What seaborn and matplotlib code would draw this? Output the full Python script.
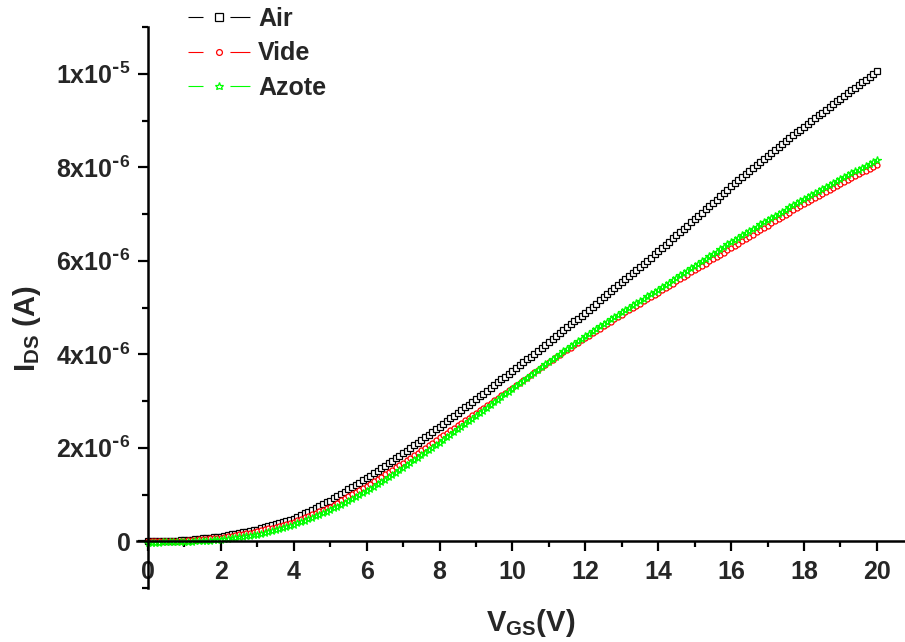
import numpy as np
import pandas as pd
import seaborn as sns
import matplotlib
matplotlib.use('Agg')
import matplotlib.pyplot as plt
from matplotlib.lines import Line2D
from matplotlib.ticker import MultipleLocator, FuncFormatter

# gate voltage sweep, 0 -> 20 V by 0.1 V
vgs = np.linspace(0, 20, 201)

# drain current, in units of 1e-6 A
i_air = [
    0.000, 0.002, 0.004, 0.006, 0.008, 0.010, 0.012, 0.014, 0.016, 0.018,
    0.020, 0.028, 0.036, 0.044, 0.052, 0.060, 0.068, 0.076, 0.084, 0.092,
    0.100, 0.115, 0.130, 0.145, 0.160, 0.175, 0.190, 0.205, 0.220, 0.235,
    0.250, 0.273, 0.296, 0.319, 0.342, 0.365, 0.388, 0.411, 0.434, 0.457,
    0.480, 0.519, 0.558, 0.597, 0.636, 0.675, 0.714, 0.753, 0.792, 0.831,
    0.870, 0.918, 0.966, 1.014, 1.062, 1.110, 1.158, 1.206, 1.254, 1.302,
    1.350, 1.403, 1.456, 1.509, 1.562, 1.615, 1.668, 1.721, 1.774, 1.827,
    1.880, 1.937, 1.994, 2.051, 2.108, 2.165, 2.222, 2.279, 2.336, 2.393,
    2.450, 2.509, 2.568, 2.627, 2.686, 2.745, 2.804, 2.863, 2.922, 2.981,
    3.040, 3.100, 3.160, 3.220, 3.280, 3.340, 3.400, 3.460, 3.520, 3.580,
    3.640, 3.702, 3.764, 3.826, 3.888, 3.950, 4.012, 4.074, 4.136, 4.198,
    4.260, 4.323, 4.386, 4.449, 4.512, 4.575, 4.638, 4.701, 4.764, 4.827,
    4.890, 4.955, 5.020, 5.085, 5.150, 5.215, 5.280, 5.345, 5.410, 5.475,
    5.540, 5.606, 5.672, 5.738, 5.804, 5.870, 5.936, 6.002, 6.068, 6.134,
    6.200, 6.269, 6.338, 6.407, 6.476, 6.545, 6.614, 6.683, 6.752, 6.821,
    6.890, 6.960, 7.030, 7.100, 7.170, 7.240, 7.310, 7.380, 7.450, 7.520,
    7.590, 7.655, 7.720, 7.785, 7.850, 7.915, 7.980, 8.045, 8.110, 8.175,
    8.240, 8.303, 8.366, 8.429, 8.492, 8.555, 8.618, 8.681, 8.744, 8.807,
    8.870, 8.930, 8.990, 9.050, 9.110, 9.170, 9.230, 9.290, 9.350, 9.410,
    9.470, 9.528, 9.586, 9.644, 9.702, 9.760, 9.818, 9.876, 9.934, 9.992,
    10.050,
]
i_vide = [
    0.000, 0.001, 0.002, 0.003, 0.004, 0.005, 0.006, 0.007, 0.008, 0.009,
    0.010, 0.017, 0.024, 0.031, 0.038, 0.045, 0.052, 0.059, 0.066, 0.073,
    0.080, 0.093, 0.106, 0.119, 0.132, 0.145, 0.158, 0.171, 0.184, 0.197,
    0.210, 0.231, 0.252, 0.273, 0.294, 0.315, 0.336, 0.357, 0.378, 0.399,
    0.420, 0.452, 0.484, 0.516, 0.548, 0.580, 0.612, 0.644, 0.676, 0.708,
    0.740, 0.784, 0.828, 0.872, 0.916, 0.960, 1.004, 1.048, 1.092, 1.136,
    1.180, 1.230, 1.280, 1.330, 1.380, 1.430, 1.480, 1.530, 1.580, 1.630,
    1.680, 1.734, 1.788, 1.842, 1.896, 1.950, 2.004, 2.058, 2.112, 2.166,
    2.220, 2.273, 2.326, 2.379, 2.432, 2.485, 2.538, 2.591, 2.644, 2.697,
    2.750, 2.803, 2.856, 2.909, 2.962, 3.015, 3.068, 3.121, 3.174, 3.227,
    3.280, 3.335, 3.390, 3.445, 3.500, 3.555, 3.610, 3.665, 3.720, 3.775,
    3.830, 3.882, 3.934, 3.986, 4.038, 4.090, 4.142, 4.194, 4.246, 4.298,
    4.350, 4.400, 4.450, 4.500, 4.550, 4.600, 4.650, 4.700, 4.750, 4.800,
    4.850, 4.897, 4.944, 4.991, 5.038, 5.085, 5.132, 5.179, 5.226, 5.273,
    5.320, 5.368, 5.416, 5.464, 5.512, 5.560, 5.608, 5.656, 5.704, 5.752,
    5.800, 5.847, 5.894, 5.941, 5.988, 6.035, 6.082, 6.129, 6.176, 6.223,
    6.270, 6.318, 6.366, 6.414, 6.462, 6.510, 6.558, 6.606, 6.654, 6.702,
    6.750, 6.797, 6.844, 6.891, 6.938, 6.985, 7.032, 7.079, 7.126, 7.173,
    7.220, 7.263, 7.306, 7.349, 7.392, 7.435, 7.478, 7.521, 7.564, 7.607,
    7.650, 7.690, 7.730, 7.770, 7.810, 7.850, 7.890, 7.930, 7.970, 8.010,
    8.050,
]
i_azote = [
    -0.030, -0.029, -0.028, -0.027, -0.026, -0.025, -0.024, -0.023, -0.022, -0.021,
    -0.020, -0.015, -0.010, -0.005, 0.000, 0.005, 0.010, 0.015, 0.020, 0.025,
    0.030, 0.041, 0.052, 0.063, 0.074, 0.085, 0.096, 0.107, 0.118, 0.129,
    0.140, 0.161, 0.182, 0.203, 0.224, 0.245, 0.266, 0.287, 0.308, 0.329,
    0.350, 0.381, 0.412, 0.443, 0.474, 0.505, 0.536, 0.567, 0.598, 0.629,
    0.660, 0.701, 0.742, 0.783, 0.824, 0.865, 0.906, 0.947, 0.988, 1.029,
    1.070, 1.120, 1.170, 1.220, 1.270, 1.320, 1.370, 1.420, 1.470, 1.520,
    1.570, 1.624, 1.678, 1.732, 1.786, 1.840, 1.894, 1.948, 2.002, 2.056,
    2.110, 2.167, 2.224, 2.281, 2.338, 2.395, 2.452, 2.509, 2.566, 2.623,
    2.680, 2.738, 2.796, 2.854, 2.912, 2.970, 3.028, 3.086, 3.144, 3.202,
    3.260, 3.318, 3.376, 3.434, 3.492, 3.550, 3.608, 3.666, 3.724, 3.782,
    3.840, 3.895, 3.950, 4.005, 4.060, 4.115, 4.170, 4.225, 4.280, 4.335,
    4.390, 4.441, 4.492, 4.543, 4.594, 4.645, 4.696, 4.747, 4.798, 4.849,
    4.900, 4.948, 4.996, 5.044, 5.092, 5.140, 5.188, 5.236, 5.284, 5.332,
    5.380, 5.431, 5.482, 5.533, 5.584, 5.635, 5.686, 5.737, 5.788, 5.839,
    5.890, 5.941, 5.992, 6.043, 6.094, 6.145, 6.196, 6.247, 6.298, 6.349,
    6.400, 6.447, 6.494, 6.541, 6.588, 6.635, 6.682, 6.729, 6.776, 6.823,
    6.870, 6.915, 6.960, 7.005, 7.050, 7.095, 7.140, 7.185, 7.230, 7.275,
    7.320, 7.363, 7.406, 7.449, 7.492, 7.535, 7.578, 7.621, 7.664, 7.707,
    7.750, 7.790, 7.830, 7.870, 7.910, 7.950, 7.990, 8.030, 8.070, 8.110,
    8.150,
]

labels = ['Air', 'Vide', 'Azote']
colors = ['#000000', '#ff0000', '#00ff00']
markers = ['s', 'o', '*']
msizes = [4.6, 3.6, 5.6]

df = pd.DataFrame({'Vgs': vgs, 'Air': i_air, 'Vide': i_vide, 'Azote': i_azote})
df[labels] = df[labels] * 1e-6

sns.set_style('ticks')
plt.rcParams['font.family'] = ['Liberation Sans', 'DejaVu Sans']
plt.rcParams['font.weight'] = 'bold'
plt.rcParams['mathtext.default'] = 'regular'
plt.rcParams['lines.scale_dashes'] = False

fig = plt.figure(figsize=(9.05, 6.42), dpi=100)
ax = fig.add_axes([137 / 905, 1 - 588 / 642, 768 / 905, 561 / 642])

for lab, c, m, ms in zip(labels, colors, markers, msizes):
    sns.lineplot(data=df, x='Vgs', y=lab, color=c, lw=0.8, marker=m,
                 markersize=ms, markerfacecolor='white', markeredgecolor=c,
                 markeredgewidth=0.9, legend=False, ax=ax)

ax.set_xlim(-0.3, 20.77)
ax.set_ylim(-1e-6, 1.1e-5)

for s in ['top', 'right']:
    ax.spines[s].set_visible(False)
for s in ['left', 'bottom']:
    ax.spines[s].set_position(('data', 0))
    ax.spines[s].set_linewidth(1.8)
    ax.spines[s].set_color('black')

ax.xaxis.set_major_locator(MultipleLocator(2))
ax.xaxis.set_minor_locator(MultipleLocator(1))
ax.yaxis.set_major_locator(MultipleLocator(2e-6))
ax.yaxis.set_minor_locator(MultipleLocator(1e-6))


def sci(v, pos):
    if abs(v) < 1e-12:
        return '0'
    e = int(np.floor(np.log10(abs(v)) + 1e-9))
    m = int(round(v / 10 ** e))
    # short hyphen in the exponent, like the original
    return '$%dx10^{\\text{-}%d}$' % (m, -e)


ax.yaxis.set_major_formatter(FuncFormatter(sci))
ax.tick_params(which='major', direction='out', length=7.5, width=1.6,
               labelsize=18, color='black')
ax.tick_params(which='minor', direction='out', length=4, width=1.6, color='black')
ax.tick_params(axis='x', which='major', pad=6)
ax.tick_params(axis='y', which='major', pad=5)
for t in ax.get_xticklabels() + ax.get_yticklabels():
    t.set_fontweight('bold')

ax.set_xlabel('$V_{GS}$(V)', fontsize=21, fontweight='bold')
ax.set_ylabel('$I_{DS}$ (A)', fontsize=21, fontweight='bold')
ax.xaxis.set_label_coords(0.512, -0.034)
ax.yaxis.set_label_coords(-0.122, 0.463)

# legend handles with a gap around the marker, Origin style
handles = [Line2D([], [], color=c, lw=0.8, marker=m, markersize=ms + 0.6,
                  markerfacecolor='white', markeredgecolor=c, markeredgewidth=0.9,
                  linestyle=(0, (10.8, 19.4, 14.4)))
           for c, m, ms in zip(colors, markers, msizes)]
leg = ax.legend(handles, labels, loc='upper left', bbox_to_anchor=(188 / 905, 1 - 7 / 642),
                bbox_transform=fig.transFigure, frameon=False,
                handlelength=2.5, handletextpad=0.3, labelspacing=0.42,
                borderpad=0, borderaxespad=0, prop={'weight': 'bold', 'size': 18})

fig.savefig('out.png', dpi=100)
